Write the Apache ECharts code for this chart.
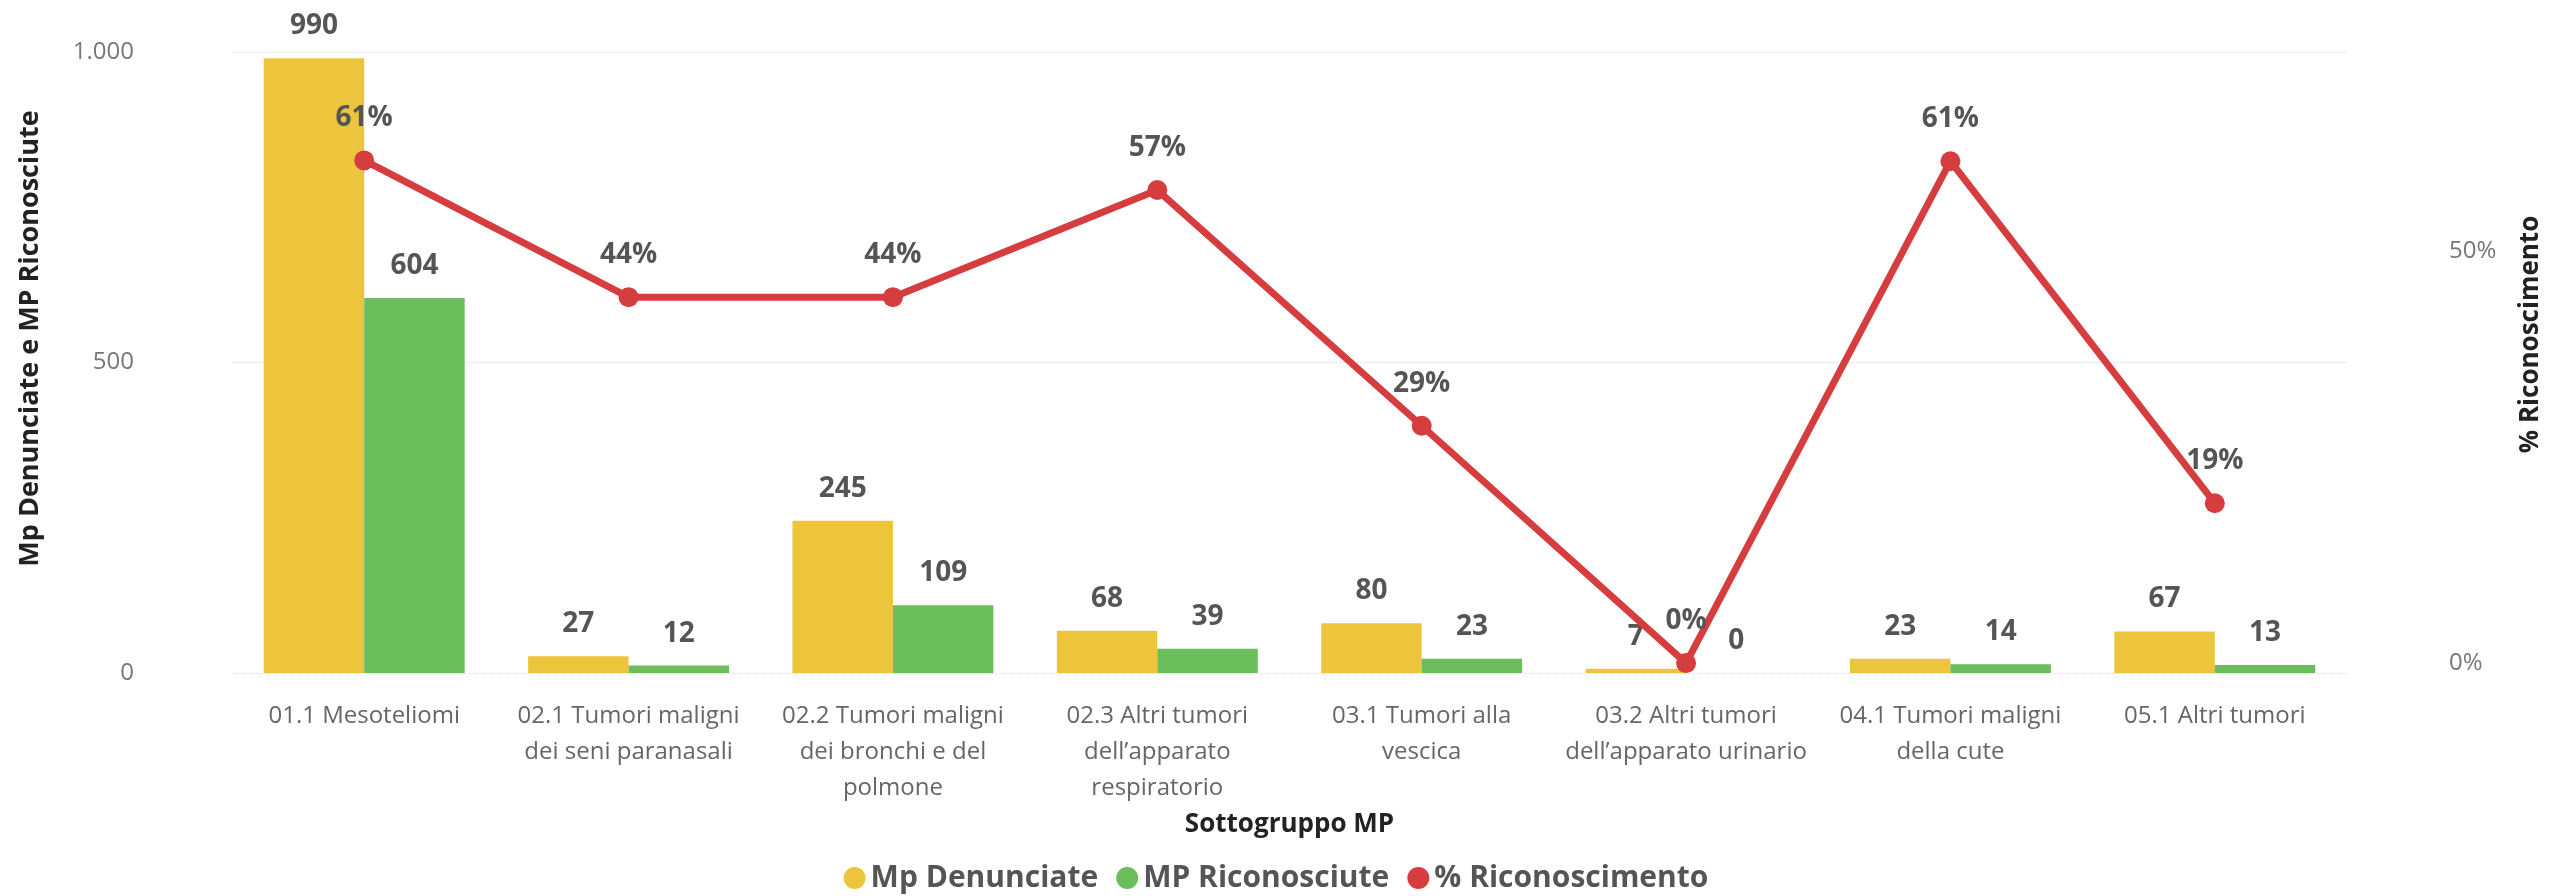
<!DOCTYPE html>
<html>
<head>
<meta charset="utf-8">
<script src="https://cdn.jsdelivr.net/npm/echarts@6/dist/echarts.min.js"></script>
<style>
html,body{margin:0;padding:0;background:#fff;}
#chart{width:2552px;height:896px;}
</style>
</head>
<body>
<div id="chart"></div>
<script>
const categories = [
  "01.1 Mesoteliomi",
  "02.1 Tumori maligni\ndei seni paranasali",
  "02.2 Tumori maligni\ndei bronchi e del\npolmone",
  "02.3 Altri tumori\ndell\u2019apparato\nrespiratorio",
  "03.1 Tumori alla\nvescica",
  "03.2 Altri tumori\ndell\u2019apparato urinario",
  "04.1 Tumori maligni\ndella cute",
  "05.1 Altri tumori"
];
const mpDenunciate = [990, 27, 245, 68, 80, 7, 23, 67];
const mpRiconosciute = [604, 12, 109, 39, 23, 0, 14, 13];
const pctRiconoscimento = [0.61, 0.444, 0.444, 0.574, 0.288, 0, 0.609, 0.194];
const rightTicks = [0, 0.5];

const FONT = "'Open Sans', 'Noto Sans', sans-serif";
const labelStyle = {
  show: true,
  position: 'top',
  distance: 18,
  fontFamily: FONT,
  fontSize: 28,
  fontWeight: 'bold',
  color: '#555555'
};

const chart = echarts.init(document.getElementById('chart'));
chart.setOption({
  backgroundColor: '#ffffff',
  animation: false,
  textStyle: { fontFamily: FONT },
  grid: { left: 232, right: 199, top: 52, bottom: 223, containLabel: false },
  legend: {
    top: 858,
    left: 'center',
    icon: 'circle',
    itemWidth: 22,
    itemHeight: 22,
    itemGap: 18,
    textStyle: { fontFamily: FONT, fontSize: 30, fontWeight: 'bold', color: '#555555' },
    data: ['Mp Denunciate', 'MP Riconosciute', '% Riconoscimento']
  },
  xAxis: {
    type: 'category',
    data: categories,
    axisLine: { show: false },
    axisTick: { show: false },
    axisLabel: {
      interval: 0,
      margin: 25,
      fontFamily: FONT,
      fontSize: 24,
      lineHeight: 36,
      color: '#666666'
    },
    name: 'Sottogruppo MP',
    nameLocation: 'middle',
    nameGap: 139,
    nameTextStyle: { fontFamily: FONT, fontSize: 26, fontWeight: 'bold', color: '#222222' }
  },
  yAxis: [
    {
      type: 'value',
      min: 0,
      max: 1000,
      interval: 500,
      axisLine: { show: false },
      axisTick: { show: false },
      axisLabel: {
        margin: 98,
        fontFamily: FONT,
        fontSize: 24,
        color: '#777777',
        formatter: v => v.toLocaleString('de-DE')
      },
      splitLine: { show: true, lineStyle: { type: 'dotted', color: '#dddddd', width: 1 } },
      name: 'Mp Denunciate e MP Riconosciute',
      nameLocation: 'middle',
      nameGap: 188,
      nameTextStyle: {
        fontFamily: FONT, fontSize: 27, fontWeight: 'bold', color: '#222222',
        padding: [0, 0, 0, 48]
      }
    },
    {
      type: 'value',
      min: -0.012,
      max: 0.7415,
      axisLine: { show: false },
      axisTick: { show: false },
      splitLine: { show: false },
      axisLabel: {
        customValues: rightTicks,
        margin: 102,
        fontFamily: FONT,
        fontSize: 24,
        color: '#777777',
        formatter: v => Math.round(v * 100) + '%'
      },
      name: '% Riconoscimento',
      nameLocation: 'middle',
      nameGap: 171,
      nameRotate: 90,
      nameTextStyle: {
        fontFamily: FONT, fontSize: 26, fontWeight: 'bold', color: '#222222',
        padding: [0, 0, 0, 56]
      }
    }
  ],
  series: [
    {
      name: 'Mp Denunciate',
      type: 'bar',
      data: mpDenunciate,
      barGap: '0%',
      barCategoryGap: '24%',
      itemStyle: { color: '#ECC53C' },
      label: labelStyle,
      z: 2
    },
    {
      name: 'MP Riconosciute',
      type: 'bar',
      data: mpRiconosciute,
      barGap: '0%',
      barCategoryGap: '24%',
      itemStyle: { color: '#6CBD5C' },
      label: labelStyle,
      z: 2
    },
    {
      name: '% Riconoscimento',
      type: 'line',
      yAxisIndex: 1,
      data: pctRiconoscimento,
      symbol: 'circle',
      symbolSize: 20,
      lineStyle: { color: '#D63D3F', width: 7 },
      itemStyle: { color: '#D63D3F' },
      label: Object.assign({}, labelStyle, {
        distance: 18,
        formatter: p => Math.round(p.value * 100) + '%'
      }),
      z: 5
    }
  ]
});
</script>
</body>
</html>
